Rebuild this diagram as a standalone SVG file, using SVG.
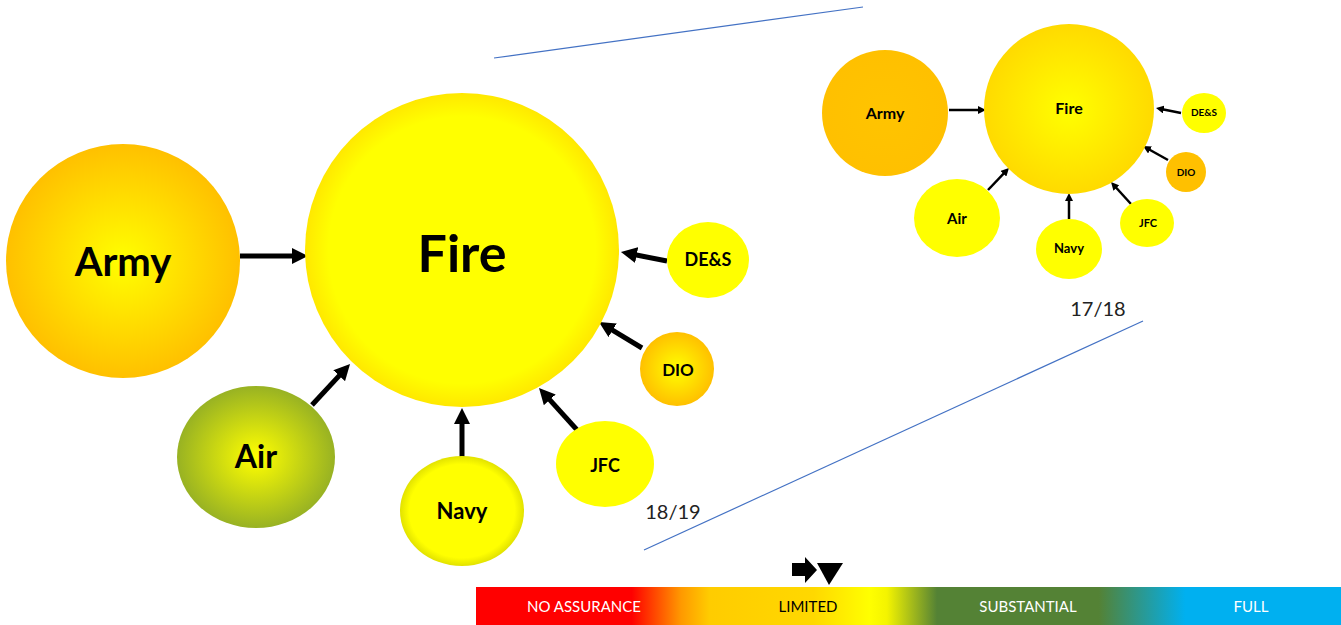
<svg xmlns="http://www.w3.org/2000/svg" width="1341" height="625" viewBox="0 0 1341 625">
<defs>
<style>
.lbl{font-family:Lato,"Open Sans","Liberation Sans",sans-serif;font-weight:bold;fill:#000;text-anchor:middle}
.yr{font-family:Lato,"Open Sans","Liberation Sans",sans-serif;font-size:20px;fill:#222;text-anchor:middle}
.bar{font-family:Lato,"Liberation Sans",sans-serif;font-size:15px;text-anchor:middle}
.arr{stroke:#000;fill:none;marker-end:url(#ah)}
.guide{stroke:#4472C4;stroke-width:1.2;fill:none}
</style>
<marker id="ah" viewBox="0 0 10 10" refX="5" refY="5" markerWidth="3.2" markerHeight="3.2" orient="auto" markerUnits="strokeWidth">
<path d="M0,0 L10,5 L0,10 z" fill="#000"/>
</marker>
<radialGradient id="gOrange"><stop offset="0" stop-color="#FFFF00"/><stop offset="1" stop-color="#FFC000"/></radialGradient>
<radialGradient id="gFire"><stop offset="0" stop-color="#FFFF00"/><stop offset="0.85" stop-color="#FFFF00"/><stop offset="1" stop-color="#FFE800"/></radialGradient>
<radialGradient id="gAir"><stop offset="0" stop-color="#FFFF00"/><stop offset="1" stop-color="#98B223"/></radialGradient>
<radialGradient id="gNavy"><stop offset="0" stop-color="#FFFF00"/><stop offset="0.85" stop-color="#FFFF00"/><stop offset="1" stop-color="#E2E200"/></radialGradient>
<radialGradient id="gFireS"><stop offset="0" stop-color="#FFFF00"/><stop offset="1" stop-color="#FFDA00"/></radialGradient>
<radialGradient id="gArmyS"><stop offset="0" stop-color="#FFC400"/><stop offset="1" stop-color="#FFC000"/></radialGradient>
<linearGradient id="gBar" x1="0" y1="0" x2="1" y2="0">
<stop offset="0" stop-color="#FF0000"/>
<stop offset="0.18" stop-color="#FF0000"/>
<stop offset="0.237" stop-color="#FF9900"/>
<stop offset="0.27" stop-color="#FFCC00"/>
<stop offset="0.39" stop-color="#FFD800"/>
<stop offset="0.455" stop-color="#FFFF00"/>
<stop offset="0.475" stop-color="#F4F400"/>
<stop offset="0.533" stop-color="#548235"/>
<stop offset="0.72" stop-color="#548235"/>
<stop offset="0.82" stop-color="#00B0F0"/>
<stop offset="1" stop-color="#00B0F0"/>
</linearGradient>
</defs>
<rect width="1341" height="625" fill="#fff"/>

<g id="guides">
<line class="guide" x1="494" y1="58" x2="863" y2="7"/>
<line class="guide" x1="644" y1="550" x2="1143" y2="321"/>
</g>

<g id="connectors">
<line class="arr" stroke-width="5" x1="240" y1="256" x2="300" y2="256"/>
<line class="arr" stroke-width="5" x1="312" y1="405" x2="344.6" y2="369.9"/>
<line class="arr" stroke-width="5" x1="462" y1="457" x2="462" y2="416"/>
<line class="arr" stroke-width="5" x1="578" y1="431" x2="544.4" y2="393.9"/>
<line class="arr" stroke-width="5" x1="642" y1="348" x2="605.8" y2="326.1"/>
<line class="arr" stroke-width="5" x1="667" y1="261" x2="628.8" y2="253.5"/>
<line class="arr" stroke-width="2.5" x1="949" y1="110" x2="982" y2="110"/>
<line class="arr" stroke-width="2.5" x1="988" y1="190" x2="1006.2" y2="170.9"/>
<line class="arr" stroke-width="2.5" x1="1069" y1="219" x2="1069" y2="197"/>
<line class="arr" stroke-width="2.5" x1="1131" y1="204" x2="1113.7" y2="185"/>
<line class="arr" stroke-width="2.5" x1="1168" y1="160" x2="1146.5" y2="148"/>
<line class="arr" stroke-width="2.5" x1="1181" y1="113" x2="1159.9" y2="108.8"/>
</g>

<g id="army">
<circle cx="123" cy="261" r="117" fill="url(#gOrange)"/>
<text class="lbl" x="123" y="276" font-size="40">Army</text>
</g>
<g id="fire">
<circle cx="462" cy="250" r="157" fill="url(#gFire)"/>
<text class="lbl" x="462" y="272" font-size="52">Fire</text>
</g>
<g id="air">
<ellipse cx="256" cy="457" rx="79" ry="71" fill="url(#gAir)"/>
<text class="lbl" x="256" y="468" font-size="32">Air</text>
</g>
<g id="navy">
<ellipse cx="462" cy="511" rx="62" ry="55" fill="url(#gNavy)"/>
<text class="lbl" x="462" y="519" font-size="22">Navy</text>
</g>
<g id="jfc">
<ellipse cx="605" cy="464" rx="49" ry="43" fill="#FFFF00"/>
<text class="lbl" x="605" y="472" font-size="18">JFC</text>
</g>
<g id="des">
<ellipse cx="708" cy="260" rx="41" ry="38" fill="#FFFF00"/>
<text class="lbl" x="708" y="266" font-size="18">DE&amp;S</text>
</g>
<g id="dio">
<circle cx="677" cy="369" r="37" fill="url(#gOrange)"/>
<text class="lbl" x="678" y="376" font-size="17">DIO</text>
</g>
<text class="yr" x="673" y="519">18/19</text>

<g id="army-1718">
<circle cx="885" cy="113" r="63" fill="url(#gArmyS)"/>
<text class="lbl" x="885" y="119" font-size="16">Army</text>
</g>
<g id="fire-1718">
<circle cx="1069" cy="109" r="85" fill="url(#gFireS)"/>
<text class="lbl" x="1069" y="114" font-size="16">Fire</text>
</g>
<g id="air-1718">
<ellipse cx="957" cy="218" rx="43" ry="39" fill="#FFFF00"/>
<text class="lbl" x="957" y="224" font-size="15">Air</text>
</g>
<g id="navy-1718">
<ellipse cx="1069" cy="249" rx="33" ry="30" fill="#FFFF00"/>
<text class="lbl" x="1069" y="253" font-size="13">Navy</text>
</g>
<g id="jfc-1718">
<ellipse cx="1147" cy="223" rx="27" ry="24" fill="#FFFF00"/>
<text class="lbl" x="1148" y="227" font-size="11">JFC</text>
</g>
<g id="des-1718">
<ellipse cx="1204" cy="113" rx="22" ry="20" fill="#FFFF00"/>
<text class="lbl" x="1204" y="116" font-size="10">DE&amp;S</text>
</g>
<g id="dio-1718">
<circle cx="1186" cy="172" r="20" fill="#FFC000"/>
<text class="lbl" x="1186" y="176" font-size="10">DIO</text>
</g>
<text class="yr" x="1098" y="316">17/18</text>

<g id="scale">
<rect x="476" y="587" width="865" height="38" fill="url(#gBar)"/>
<text class="bar" x="584" y="612" fill="#fff">NO ASSURANCE</text>
<text class="bar" x="808" y="612" fill="#000">LIMITED</text>
<text class="bar" x="1028" y="612" fill="#fff">SUBSTANTIAL</text>
<text class="bar" x="1251" y="612" fill="#fff">FULL</text>
<path d="M792,563 L805,563 L805,557 L817,570 L805,583 L805,576 L792,576 z" fill="#000"/>
<path d="M817,563 L843,563 L829,585 z" fill="#000"/>
</g>
</svg>
